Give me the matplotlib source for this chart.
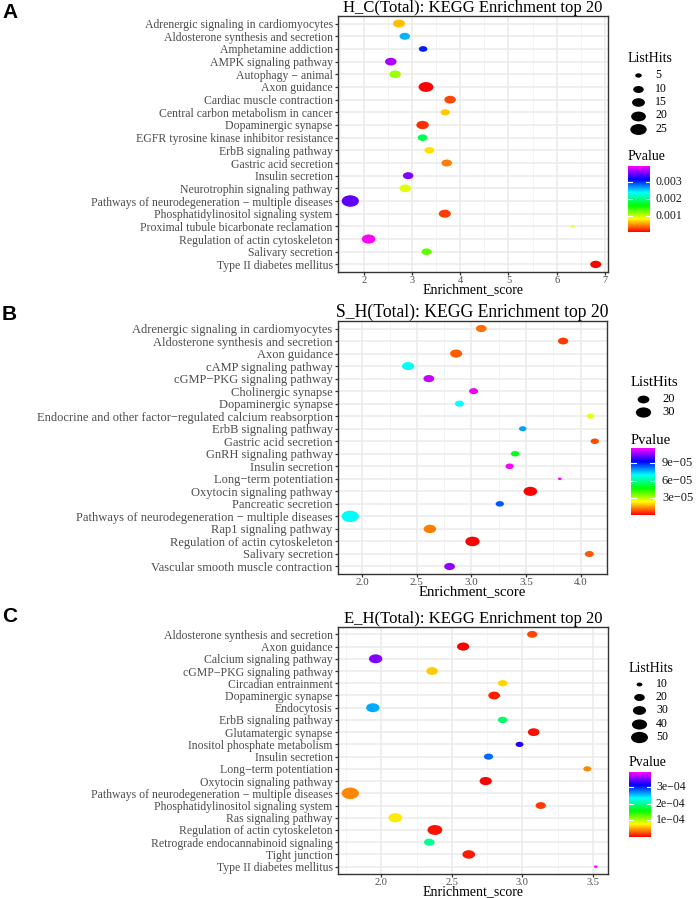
"""
KEGG enrichment top-20 bubble plots (H_C, S_H, E_H), three stacked panels.
x = enrichment score, bubble size = ListHits, colour = Pvalue (rainbow).
"""

import numpy as np
import matplotlib
matplotlib.use('Agg')
import matplotlib.pyplot as plt
from matplotlib.colors import ListedColormap, hsv_to_rgb
from matplotlib.path import Path
from matplotlib.markers import MarkerStyle
from matplotlib.transforms import Affine2D
from matplotlib.ticker import MultipleLocator, FormatStrFormatter

plt.rcParams['font.family'] = ['Liberation Serif', 'DejaVu Serif']

# --- panel A: H_C -----------------------------------------------------
a_terms = ['Adrenergic signaling in cardiomyocytes', 'Aldosterone synthesis and secretion',
           'Amphetamine addiction', 'AMPK signaling pathway', 'Autophagy − animal',
           'Axon guidance', 'Cardiac muscle contraction', 'Central carbon metabolism in cancer',
           'Dopaminergic synapse', 'EGFR tyrosine kinase inhibitor resistance',
           'ErbB signaling pathway', 'Gastric acid secretion', 'Insulin secretion',
           'Neurotrophin signaling pathway', 'Pathways of neurodegeneration − multiple diseases',
           'Phosphatidylinositol signaling system', 'Proximal tubule bicarbonate reclamation',
           'Regulation of actin cytoskeleton', 'Salivary secretion', 'Type II diabetes mellitus']
a_score = [2.73, 2.85, 3.23, 2.56, 2.65, 3.29, 3.79, 3.69, 3.22, 3.22,
           3.36, 3.72, 2.92, 2.86, 1.72, 3.68, 6.33, 2.10, 3.30, 6.81]
a_hits = [13, 10, 7, 12, 12, 20, 12, 8, 14, 9, 9, 10, 10, 12, 28, 13, 4, 17, 9, 11]
a_pval = [0.00062, 0.00262, 0.00309, 0.00372, 0.00111, 0.00004, 0.00025, 0.00065, 0.00017, 0.00187,
          0.00073, 0.00042, 0.00358, 0.00091, 0.00347, 0.00023, 0.00085, 0.00397, 0.00132, 0.00003]
a_hit_breaks = [5, 10, 15, 20, 25]
a_p_breaks = [0.001, 0.002, 0.003]
a_p_labels = ['0.001', '0.002', '0.003']

# --- panel B: S_H -----------------------------------------------------
b_terms = ['Adrenergic signaling in cardiomyocytes', 'Aldosterone synthesis and secretion',
           'Axon guidance', 'cAMP signaling pathway', 'cGMP−PKG signaling pathway',
           'Cholinergic synapse', 'Dopaminergic synapse',
           'Endocrine and other factor−regulated calcium reabsorption', 'ErbB signaling pathway',
           'Gastric acid secretion', 'GnRH signaling pathway', 'Insulin secretion',
           'Long−term potentiation', 'Oxytocin signaling pathway', 'Pancreatic secretion',
           'Pathways of neurodegeneration − multiple diseases', 'Rap1 signaling pathway',
           'Regulation of actin cytoskeleton', 'Salivary secretion',
           'Vascular smooth muscle contraction']
b_score = [3.09, 3.84, 2.86, 2.42, 2.61, 3.02, 2.89, 4.09, 3.47, 4.13,
           3.40, 3.35, 3.81, 3.54, 3.26, 1.89, 2.62, 3.01, 4.08, 2.80]
b_hits = [18, 17, 21, 21, 18, 15, 15, 13, 13, 14, 14, 14, 11, 25, 14, 37, 22, 27, 15, 18]
b_pval = [1.10e-5, 6.0e-6, 9.5e-6, 6.95e-5, 1.107e-4, 1.15e-4, 7.03e-5, 2.6e-5, 7.9e-5, 7.9e-6,
          5.0e-5, 1.157e-4, 1.165e-4, 1.2e-6, 8.5e-5, 7.0e-5, 1.25e-5, 1.0e-6, 9.5e-6, 1.065e-4]
b_hit_breaks = [20, 30]
b_p_breaks = [3e-5, 6e-5, 9e-5]
b_p_labels = ['3e−05', '6e−05', '9e−05']

# --- panel C: E_H -----------------------------------------------------
c_terms = ['Aldosterone synthesis and secretion', 'Axon guidance', 'Calcium signaling pathway',
           'cGMP−PKG signaling pathway', 'Circadian entrainment', 'Dopaminergic synapse',
           'Endocytosis', 'ErbB signaling pathway', 'Glutamatergic synapse',
           'Inositol phosphate metabolism', 'Insulin secretion', 'Long−term potentiation',
           'Oxytocin signaling pathway', 'Pathways of neurodegeneration − multiple diseases',
           'Phosphatidylinositol signaling system', 'Ras signaling pathway',
           'Regulation of actin cytoskeleton', 'Retrograde endocannabinoid signaling',
           'Tight junction', 'Type II diabetes mellitus']
c_score = [3.07, 2.58, 1.96, 2.36, 2.86, 2.80, 1.94, 2.86, 3.08, 2.98,
           2.76, 3.46, 2.74, 1.78, 3.13, 2.10, 2.38, 2.34, 2.62, 3.52]
c_hits = [19, 26, 31, 24, 17, 24, 31, 17, 24, 13, 16, 13, 26, 52, 19, 33, 38, 20, 28, 9]
c_pval = [2.3e-5, 2.3e-6, 3.51e-4, 6.45e-5, 6.7e-5, 1.1e-5, 2.60e-4, 1.89e-4, 6.2e-6, 3.22e-4,
          2.80e-4, 4.25e-5, 1.0e-6, 4.25e-5, 1.9e-5, 7.36e-5, 6.2e-6, 2.02e-4, 8.8e-6, 3.9e-4]
c_hit_breaks = [10, 20, 30, 40, 50]
c_p_breaks = [1e-4, 2e-4, 3e-4]
c_p_labels = ['1e−04', '2e−04', '3e−04']

# rainbow red -> magenta, low p at red
_hues = np.linspace(0, 300 / 360, 256)
RAINBOW = ListedColormap(hsv_to_rgb(np.column_stack([_hues, np.ones(256), np.ones(256)])))

# bubbles are a bit wider than tall in the reference
OVAL = MarkerStyle(Path.unit_circle().transformed(Affine2D().scale(1.5, 1.0)))


def bubble_s(v, vmin, vmax):
    """ggplot-like area scale: height in px goes 2.5 -> 11.5 with sqrt of rescaled value."""
    t = np.clip((np.asarray(v, float) - vmin) / (vmax - vmin), 0, 1)
    h_px = 2.5 + 9.0 * np.sqrt(t)
    return (1.5 * h_px * 72 / 100) ** 2


fig = plt.figure(figsize=(6.99, 8.98), dpi=100)
W, H = 699, 898

# panel B was exported a bit larger in the source figure -> fs scales its text
panels = [
    dict(letter='A', title='H_C(Total): KEGG Enrichment top 20',
         terms=a_terms, score=a_score, hits=a_hits, pval=a_pval,
         hit_breaks=a_hit_breaks, p_breaks=a_p_breaks, p_labels=a_p_labels,
         box=(338, 16, 608, 272), step=1.0, fmt='%d', letter_y=12, fs=1.0,
         lh=(628, 59, 638, 75, 13.5, 655), pv=(628, 157, 166, 22, 66, 656)),
    dict(letter='B', title='S_H(Total): KEGG Enrichment top 20',
         terms=b_terms, score=b_score, hits=b_hits, pval=b_pval,
         hit_breaks=b_hit_breaks, p_breaks=b_p_breaks, p_labels=b_p_labels,
         box=(338, 321, 607, 574), step=0.5, fmt='%.1f', letter_y=315, fs=1.06,
         lh=(631, 383, 643, 399, 13.3, 662), pv=(631, 440, 448, 24, 67, 662)),
    dict(letter='C', title='E_H(Total): KEGG Enrichment top 20',
         terms=c_terms, score=c_score, hits=c_hits, pval=c_pval,
         hit_breaks=c_hit_breaks, p_breaks=c_p_breaks, p_labels=c_p_labels,
         box=(338, 627, 608, 874), step=0.5, fmt='%.1f', letter_y=616, fs=1.0,
         lh=(629, 669, 639, 684, 13.2, 656), pv=(629, 763, 772, 22, 65, 656)),
]

ov = fig.add_axes([0, 0, 1, 1], zorder=5)
ov.axis('off')

for p in panels:
    fs = p['fs']
    x0, y0, x1, y1 = p['box']
    ax = fig.add_axes([x0 / W, 1 - y1 / H, (x1 - x0) / W, (y1 - y0) / H])
    n = len(p['terms'])
    ypos = np.arange(n)[::-1]
    score = np.array(p['score'])
    hits = np.array(p['hits'])
    pval = np.array(p['pval'])
    hmin, hmax = hits.min(), hits.max()
    pmin, pmax = pval.min(), pval.max()

    ax.scatter(score, ypos, s=bubble_s(hits, hmin, hmax), c=pval, cmap=RAINBOW,
               vmin=pmin, vmax=pmax, marker=OVAL, linewidths=0, zorder=3)

    pad = 0.05 * (score.max() - score.min())
    ax.set_xlim(score.min() - pad, score.max() + pad)
    ax.set_ylim(-0.6, n - 0.4)
    ax.set_yticks(ypos)
    ax.set_yticklabels(p['terms'])
    ax.xaxis.set_major_locator(MultipleLocator(p['step']))
    ax.xaxis.set_minor_locator(MultipleLocator(p['step'] / 2))
    ax.xaxis.set_major_formatter(FormatStrFormatter(p['fmt']))
    ax.grid(which='major', color='#EBEBEB', lw=1.1, zorder=0)
    ax.grid(which='minor', axis='x', color='#F2F2F2', lw=0.6, zorder=0)
    ax.set_axisbelow(True)
    ax.tick_params(axis='both', which='major', length=2.3, width=0.9, color='#333333',
                   labelcolor='#4D4D4D', pad=1)
    ax.tick_params(axis='y', labelsize=8.5 * fs, pad=1.5)
    ax.tick_params(axis='x', labelsize=7.5 * fs, pad=0.5)
    ax.tick_params(which='minor', length=0)
    for sp in ax.spines.values():
        sp.set_color('#333333')
        sp.set_linewidth(1.0)
    ax.set_title(p['title'], fontsize=12 * fs, pad=2.5)
    ax.set_xlabel('Enrichment_score', fontsize=10 * fs, labelpad=-1)

    # panel letter
    ov.text(2, p['letter_y'], p['letter'], fontsize=15, fontweight='bold',
            family='Liberation Sans', va='center', ha='left')

    # ListHits legend
    tx, ty, dx, ey0, edy, lx = p['lh']
    ov.text(tx, ty, 'ListHits', fontsize=10 * fs, va='center', ha='left')
    for k, b in enumerate(p['hit_breaks']):
        yy = ey0 + k * edy
        ov.scatter([dx], [yy], s=bubble_s([b], hmin, hmax), color='black',
                   marker=OVAL, linewidths=0)
        ov.text(lx, yy, str(b), fontsize=8.5 * fs, va='center', ha='left')

    # Pvalue colourbar
    px, pty, cy, cw, ch, clx = p['pv']
    ov.text(px, pty, 'Pvalue', fontsize=10 * fs, va='center', ha='left')
    grad = np.linspace(1, 0, 256)[:, None]
    ov.imshow(grad, extent=(px, px + cw, cy + ch, cy), aspect='auto', cmap=RAINBOW,
              interpolation='bilinear')
    for b, lab in zip(p['p_breaks'], p['p_labels']):
        yy = cy + ch - (b - pmin) / (pmax - pmin) * ch
        ov.plot([px, px + cw * 0.2], [yy, yy], color='white', lw=0.8)
        ov.plot([px + cw * 0.8, px + cw], [yy, yy], color='white', lw=0.8)
        ov.text(clx, yy, lab, fontsize=8.5 * fs, va='center', ha='left', color='#1A1A1A')

ov.set_xlim(0, W)
ov.set_ylim(H, 0)

plt.savefig('out.png', dpi=100)
plt.close(fig)
